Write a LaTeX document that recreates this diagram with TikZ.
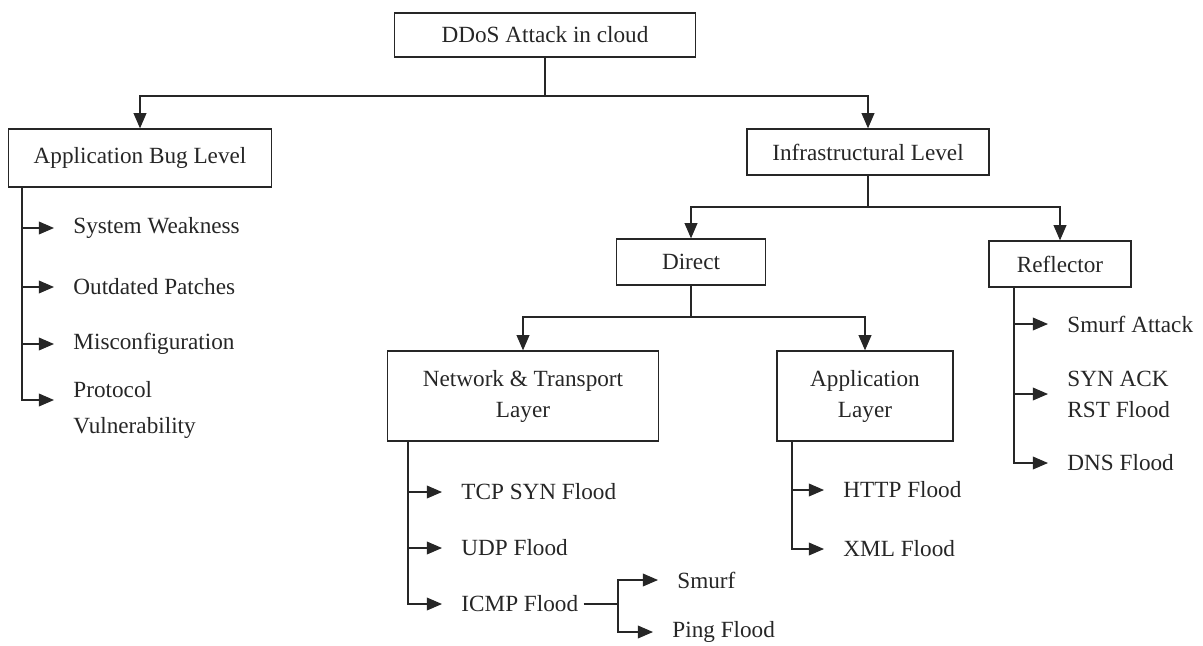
\documentclass[tikz,border=0pt]{standalone}
\usepackage{fontspec}
\setmainfont{Liberation Serif}
\usetikzlibrary{arrows.meta}

\tikzset{
  box/.style={draw, align=center, inner sep=2pt},
  leaf/.style={anchor=west, inner xsep=0.12cm, inner ysep=0pt, align=left},
  arr/.style={-{Triangle[length=0.38cm,width=0.32cm]}},
  sub/.style={arr, shorten >=0.35cm},
}

\begin{document}
\begin{tikzpicture}[x=0.025cm, y=-0.025cm, line width=0.9pt, color=black!85,
    font=\fontsize{16.5}{22}\selectfont]
  \useasboundingbox (0,0) rectangle (1203,645);

  % levels
  \node[box, minimum width=7.53cm, minimum height=1.1cm]  (root)   at (545,35)  {DDoS Attack in cloud};
  \node[box, minimum width=6.58cm, minimum height=1.45cm] (abl)    at (140,158) {Application Bug Level};
  \node[box, minimum width=6.05cm, minimum height=1.15cm] (infra)  at (868,152) {Infrastructural Level};
  \node[box, minimum width=3.73cm, minimum height=1.15cm] (direct) at (691,262) {Direct};
  \node[box, minimum width=3.55cm, minimum height=1.15cm] (refl)   at (1060,264) {Reflector};
  \node[box, minimum width=6.78cm, minimum height=2.25cm] (ntl)    at (523,396) {Network \& Transport\\Layer};
  \node[box, minimum width=4.4cm,  minimum height=2.25cm] (appl)   at (865,396) {Application\\Layer};

  \coordinate (j1) at (545,96);
  \coordinate (j2) at (868,207);
  \coordinate (j3) at (691,317);
  \draw (root.south) -- (j1);
  \draw[arr] (j1) -| (abl);
  \draw[arr] (j1) -| (infra);
  \draw (infra.south) -- (j2);
  \draw[arr] (j2) -| (direct);
  \draw[arr] (j2) -| (refl);
  \draw (direct.south) -- (j3);
  \draw[arr] (j3) -| (ntl);
  \draw[arr] (j3) -| (appl);

  % application bug level
  \node[leaf] (sw) at (68,228) {System Weakness};
  \node[leaf] (op) at (68,287) {Outdated Patches};
  \node[leaf] (mc) at (68,344) {Misconfiguration};
  \node[leaf] (pv) at (68,410) {Protocol\\[3pt]Vulnerability};
  \coordinate (abt) at (22,187);
  \draw[sub] (abt) |- ([yshift=0.25cm]pv.west);
  \foreach \n in {sw,op,mc}
    \draw[sub] (abt |- \n.west) -- (\n.west);

  % network & transport layer
  \node[leaf] (tcp)   at (456,492) {TCP SYN Flood};
  \node[leaf] (udp)   at (456,548) {UDP Flood};
  \node[leaf] (icmp)  at (456,604) {ICMP Flood};
  \node[leaf] (smurf) at (672,580) {Smurf};
  \node[leaf] (ping)  at (667,632) {Ping Flood};
  \coordinate (ntt) at (408,441);
  \draw[sub] (ntt) |- (icmp.west);
  \foreach \n in {tcp,udp}
    \draw[sub] (ntt |- \n.west) -- (\n.west);
  \coordinate (icj) at (618,604);
  \draw (icmp.east) -- (icj);
  \draw[sub] (icj) |- (smurf.west);
  \draw[sub] (icj) |- (ping.west);

  % application layer
  \node[leaf] (http) at (838,490) {HTTP Flood};
  \node[leaf] (xml)  at (838,549) {XML Flood};
  \coordinate (apt) at (792,441);
  \draw[sub] (apt) |- (xml.west);
  \draw[sub] (apt |- http.west) -- (http.west);

  % reflector
  \node[leaf] (smurfa) at (1062,324) {Smurf Attack};
  \node[leaf] (synack) at (1062,394) {SYN ACK\\RST Flood};
  \node[leaf] (dns)    at (1062,463) {DNS Flood};
  \coordinate (rft) at (1014,287);
  \draw[sub] (rft) |- (dns.west);
  \foreach \n in {smurfa,synack}
    \draw[sub] (rft |- \n.west) -- (\n.west);
\end{tikzpicture}
\end{document}
